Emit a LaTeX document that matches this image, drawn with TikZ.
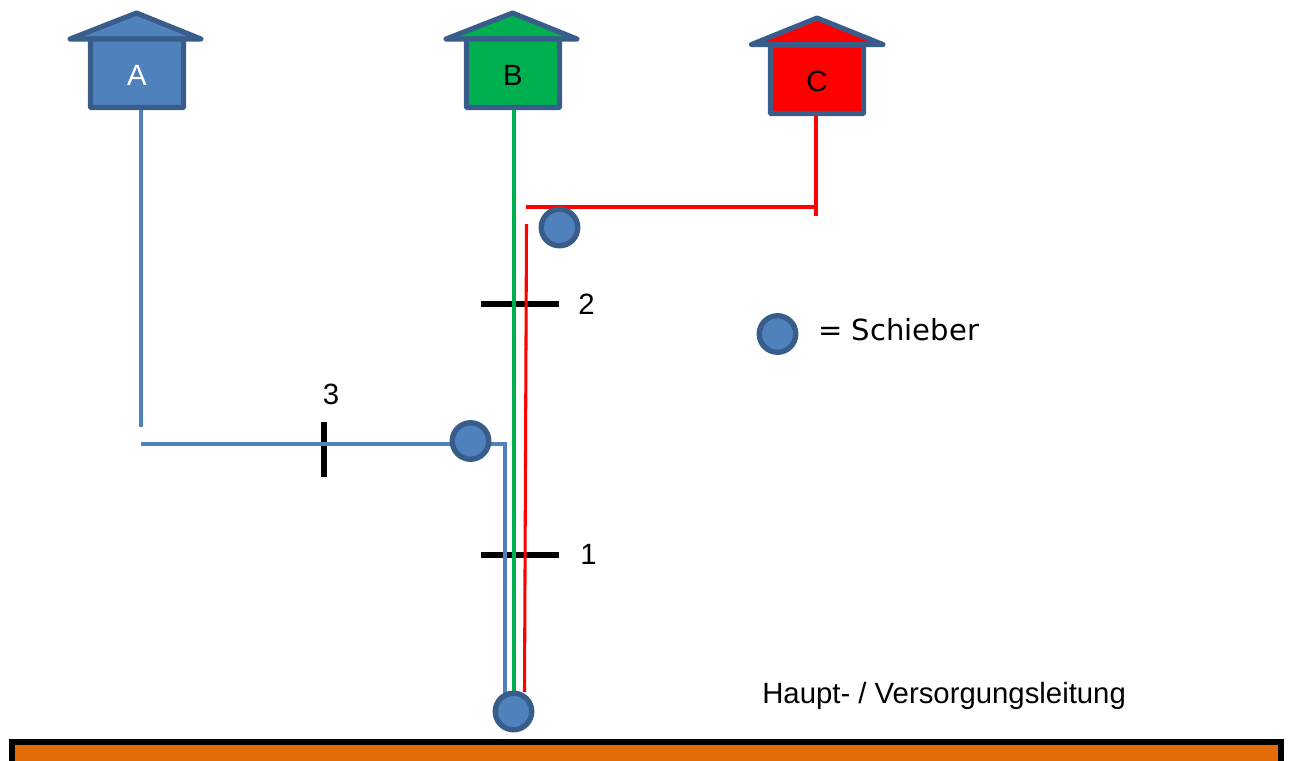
\documentclass[tikz,border=0pt]{standalone}
\usepackage{fontspec}
\setmainfont{Liberation Sans}
\newfontfamily\legendfont{DejaVu Sans}
\usetikzlibrary{calc, positioning}

\definecolor{hausblau}{HTML}{4F81BD}
\definecolor{randblau}{HTML}{385D8A}
\definecolor{hausgruen}{HTML}{00B050}
\definecolor{hausrot}{HTML}{FF0000}
\definecolor{leitung}{HTML}{E36C09}

\tikzset{
  haus/.style={draw=randblau, line width=3.8pt, rounded corners=0.6pt, minimum width=69.8pt, minimum height=51.4pt, inner sep=0pt, text height=18.5pt, text depth=0pt, font=\fontsize{22}{26}\selectfont},
  dach/.style={draw=randblau, line width=3.8pt, line join=round, line cap=round},
  schieber/.style={circle, draw=randblau, fill=hausblau, line width=4pt, minimum size=27.4pt, inner sep=0pt},
  rohr/.style={line width=2.3pt},
  marke/.style={line width=4pt, black},
  beschriftung/.style={inner sep=0pt, font=\fontsize{22}{26}\selectfont}
}

\begin{document}
\begin{tikzpicture}[x=0.75pt, y=-0.75pt]
  \clip (0,0) rectangle (1291,760);

  % Versorgungsleitung
  \node[draw=black, fill=leitung, line width=4.4pt, minimum width=952pt, minimum height=40pt, inner sep=0pt, anchor=north west] (hauptleitung) at (9,739) {};

  % Houses
  \draw[dach, fill=hausblau] (70,39) -- (136.5,13) -- (201,39) -- cycle;
  \node[haus, fill=hausblau, text=white] (hausA) at (137,73.25) {A};
  \draw[dach, fill=hausgruen] (446,39) -- (512.5,13) -- (577,39) -- cycle;
  \node[haus, fill=hausgruen] (hausB) at (513,73.25) {B};
  \draw[dach, fill=hausrot] (751.5,44.5) -- (817,18) -- (883,44.5) -- cycle;
  \node[haus, fill=hausrot] (hausC) at (817,79.25) {C};

  % Points on the pipes
  \coordinate (a1) at (141,427);
  \coordinate (a2) at (141,444);
  \coordinate (a3) at (505,444);
  \coordinate (a4) at (505,700);
  \coordinate (b1) at (514,692);
  \coordinate (c1) at (526,207);
  \coordinate (c2) at (816,207);
  \coordinate (c3) at (816,216);
  \coordinate (c4) at (526.5,224);
  \coordinate (c5) at (524.5,692);

  % Marks
  \coordinate (m1l) at (481,555);
  \coordinate (m1r) at (559,555);
  \coordinate (m2l) at (481,304);
  \coordinate (m2r) at (559,304);
  \coordinate (m3o) at (324,422);
  \coordinate (m3u) at (324,477);
  \draw[marke] (m1l) -- (m1r);
  \draw[marke] (m2l) -- (m2r);
  \draw[marke] (m3o) -- (m3u);

  % Pipes
  \draw[rohr, hausblau] (hausA.south -| a1) -- (a1);
  \draw[rohr, hausblau] (a2) -- (a3) -- (a4);
  \draw[rohr, hausgruen] (hausB.south -| b1) -- (b1);
  \draw[rohr, hausrot] (hausC.south -| c2) -- (c3);
  \draw[rohr, hausrot] (c1) -- (c2);
  \draw[rohr, hausrot] (c4) -- (c5);

  % Valves
  \node[schieber] (s1) at (559.5,227.5) {};
  \node[schieber] (s2) at (470.5,441) {};
  \node[schieber] (s3) at (513.5,711.5) {};
  \node[schieber] (s4) at (777.5,334) {};

  % Labels
  \node[beschriftung, anchor=west] (l1) at (580,554) {1};
  \node[beschriftung, anchor=west] (l2) at (578,304) {2};
  \node[beschriftung] (l3) at (331,394) {3};
  \node[anchor=west, inner sep=0pt, font=\legendfont\fontsize{21.8}{26}\selectfont] (legende) at (818,330) {= Schieber};
  \node[beschriftung, anchor=west] (haupt) at (762,696) {Haupt- / Versorgungsleitung};
\end{tikzpicture}
\end{document}
